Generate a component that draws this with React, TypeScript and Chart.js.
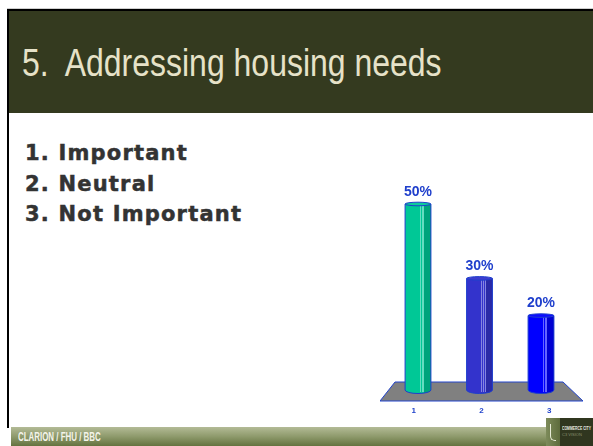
import React, { useEffect, useRef } from "react";
import { Chart, registerables } from "chart.js";

Chart.register(...registerables);

// ---- data ----
const categories = ["1", "2", "3"];
const values = [50, 30, 20];
const valueLabels = ["50%", "30%", "20%"];
const barColors = ["#00c896", "#3333cc", "#0000ff"];
const legendItems = ["1. Important", "2. Neutral", "3. Not Important"];
const titleText = "5.  Addressing housing needs";
const footerText = "CLARION / FHU / BBC";

function shade(hex: string, f: number): string {
  const n = parseInt(hex.slice(1), 16);
  let r = (n >> 16) & 255, g = (n >> 8) & 255, b = n & 255;
  if (f < 0) {
    r = Math.round(r * (1 + f)); g = Math.round(g * (1 + f)); b = Math.round(b * (1 + f));
  } else {
    r = Math.round(r + (255 - r) * f); g = Math.round(g + (255 - g) * f); b = Math.round(b + (255 - b) * f);
  }
  return `rgb(${r},${g},${b})`;
}

const OUTLINE = "#1f3fcc";

const cylinderPlugin = {
  id: "cylinders",
  beforeDatasetsDraw(chart: any) {
    const { ctx, chartArea: a, scales } = chart;
    const yz = scales.y.getPixelForValue(0);
    ctx.save();
    // floor
    ctx.beginPath();
    ctx.moveTo(a.left + 7.75, yz - 8);
    ctx.lineTo(a.right - 8.75, yz - 8);
    ctx.lineTo(a.right + 11.25, yz + 11);
    ctx.lineTo(a.left - 7.25, yz + 11);
    ctx.closePath();
    ctx.fillStyle = "#808080";
    ctx.fill();
    ctx.strokeStyle = "#2244cc";
    ctx.lineWidth = 1;
    ctx.stroke();
    // category labels along the front edge of the floor
    const x0 = a.left - 7.25, x1 = a.right + 11.25;
    const n = chart.data.labels.length;
    ctx.fillStyle = "#2244cc";
    ctx.font = "bold 8px 'Liberation Sans', Arial, sans-serif";
    ctx.textAlign = "center";
    ctx.textBaseline = "middle";
    chart.data.labels.forEach((lab: string, i: number) => {
      ctx.fillText(lab, x0 + (i + 0.5) * (x1 - x0) / n, yz + 21);
    });
    ctx.restore();
  },
  afterDatasetsDraw(chart: any) {
    const { ctx } = chart;
    const meta = chart.getDatasetMeta(0);
    ctx.save();
    meta.data.forEach((el: any, i: number) => {
      const { x, y, base, width: w } = el.getProps(["x", "y", "base", "width"], true);
      const c = barColors[i];
      const l = x - w / 2, r = x + w / 2;
      // bottom ellipse
      ctx.beginPath();
      ctx.ellipse(x, base, w / 2, 3.5, 0, 0, Math.PI);
      ctx.closePath();
      ctx.fillStyle = c;
      ctx.fill();
      // darker right strip
      ctx.fillStyle = shade(c, -0.18);
      ctx.fillRect(l + 0.73 * w, y, 0.27 * w, base - y);
      ctx.beginPath();
      ctx.ellipse(x, base, w / 2, 3.5, 0, 0, Math.PI);
      ctx.save();
      ctx.clip();
      ctx.fillRect(l + 0.73 * w, base, 0.27 * w, 4);
      ctx.restore();
      // highlight lines
      ctx.strokeStyle = shade(c, 0.4);
      ctx.lineWidth = 1;
      [0.57, 0.65, 0.71].forEach((f) => {
        const xx = Math.round(l + f * w) + 0.5;
        ctx.beginPath();
        ctx.moveTo(xx, y);
        ctx.lineTo(xx, base + 2);
        ctx.stroke();
      });
      // outline
      ctx.strokeStyle = OUTLINE;
      ctx.lineWidth = 1;
      ctx.beginPath();
      ctx.moveTo(l, y);
      ctx.lineTo(l, base);
      ctx.ellipse(x, base, w / 2, 3.5, 0, Math.PI, 0, true);
      ctx.lineTo(r, y);
      ctx.stroke();
      // top ellipse
      ctx.beginPath();
      ctx.ellipse(x, y, w / 2, 1.8, 0, 0, Math.PI * 2);
      ctx.fillStyle = shade(c, 0.05);
      ctx.fill();
      ctx.stroke();
      // value label
      ctx.fillStyle = "#1f3fcc";
      ctx.font = "bold 14px 'Liberation Sans', Arial, sans-serif";
      ctx.textAlign = "center";
      ctx.textBaseline = "middle";
      ctx.fillText(valueLabels[i], x, y - 12);
    });
    ctx.restore();
  },
};

function BarChart() {
  const ref = useRef<HTMLCanvasElement | null>(null);
  useEffect(() => {
    if (!ref.current) return;
    const chart = new Chart(ref.current, {
      type: "bar",
      data: {
        labels: categories,
        datasets: [
          {
            data: values,
            backgroundColor: barColors,
            borderWidth: 0,
            categoryPercentage: 1,
            barPercentage: 0.42,
          },
        ],
      },
      options: {
        responsive: false,
        animation: false,
        devicePixelRatio: 1,
        layout: { padding: { left: 7.25, right: 21.25, top: 24, bottom: 30 } },
        plugins: { legend: { display: false }, tooltip: { enabled: false } },
        scales: {
          x: { display: false },
          y: { display: false, min: 0, max: 50 },
        },
      },
      plugins: [cylinderPlugin],
    });
    return () => chart.destroy();
  }, []);
  return (
    <canvas
      ref={ref}
      width={213}
      height={240}
      style={{ position: "absolute", left: 380, top: 180, width: 213, height: 240 }}
    />
  );
}

export default function App() {
  return (
    <div
      style={{
        position: "absolute",
        left: 0,
        top: 0,
        width: 593,
        height: 446,
        overflow: "hidden",
        background: "#ffffff",
        fontFamily: "'Liberation Sans', Arial, sans-serif",
      }}
    >
      {/* top thin gray line */}
      <div style={{ position: "absolute", left: 7, top: 8, width: 586, height: 1, background: "#cfcfcf" }} />
      {/* header */}
      <div
        style={{
          position: "absolute",
          left: 7,
          top: 9,
          width: 586,
          height: 104,
          boxSizing: "border-box",
          background: "#343a1f",
          borderTop: "2px solid #000",
          borderLeft: "2px solid #000",
        }}
      />
      {/* left border */}
      <div style={{ position: "absolute", left: 7, top: 113, width: 2, height: 315, background: "#000" }} />
      {/* title */}
      <div
        style={{
          position: "absolute",
          left: 22,
          top: 43,
          fontSize: 39,
          lineHeight: "39px",
          color: "#e6e2c8",
          whiteSpace: "pre",
          transform: "scaleX(0.82)",
          transformOrigin: "left top",
        }}
      >
        {titleText}
      </div>
      {/* list */}
      {legendItems.map((t, i) => (
        <div
          key={t}
          style={{
            position: "absolute",
            left: 25,
            top: 143 + i * 30.5,
            fontFamily: "'DejaVu Sans', sans-serif",
            fontWeight: "bold",
            fontSize: 21,
            lineHeight: "21px",
            letterSpacing: 1.2,
            color: "#333333",
            whiteSpace: "pre",
            WebkitTextStroke: "0.5px #333333",
          }}
        >
          {t}
        </div>
      ))}
      <BarChart />
      {/* footer */}
      <div
        style={{
          position: "absolute",
          left: 11,
          top: 427,
          width: 536,
          height: 19,
          background: "linear-gradient(to bottom, #b3bb96, #8e9a6c 50%, #64733f)",
        }}
      />
      <div
        style={{
          position: "absolute",
          left: 18,
          top: 430,
          fontSize: 12,
          lineHeight: "14px",
          fontWeight: "bold",
          color: "#f4f4ea",
          whiteSpace: "pre",
          transform: "scaleX(0.66)",
          transformOrigin: "left top",
        }}
      >
        {footerText}
      </div>
      {/* logo */}
      <div style={{ position: "absolute", left: 546, top: 418, width: 47, height: 28, background: "#30361f" }} />
      <div
        style={{
          position: "absolute",
          left: 546,
          top: 418,
          width: 14,
          height: 28,
          background: "linear-gradient(to right, #7d8b5a, #5d6b3c)",
        }}
      />
      <div
        style={{
          position: "absolute",
          left: 550,
          top: 424,
          width: 5,
          height: 16,
          borderLeft: "1px solid #e8ecd8",
          borderBottom: "1px solid #e8ecd8",
          borderRadius: "0 0 0 5px",
        }}
      />
      <div
        style={{
          position: "absolute",
          left: 562,
          top: 425,
          fontSize: 5,
          lineHeight: "6px",
          fontWeight: "bold",
          color: "#e8e8e0",
          whiteSpace: "pre",
          transform: "scaleX(0.68)",
          transformOrigin: "left top",
        }}
      >
        COMMERCE CITY
      </div>
      <div
        style={{
          position: "absolute",
          left: 562,
          top: 432,
          fontSize: 4,
          lineHeight: "5px",
          color: "#8a9070",
          whiteSpace: "pre",
        }}
      >
        C3 VISION
      </div>
    </div>
  );
}
